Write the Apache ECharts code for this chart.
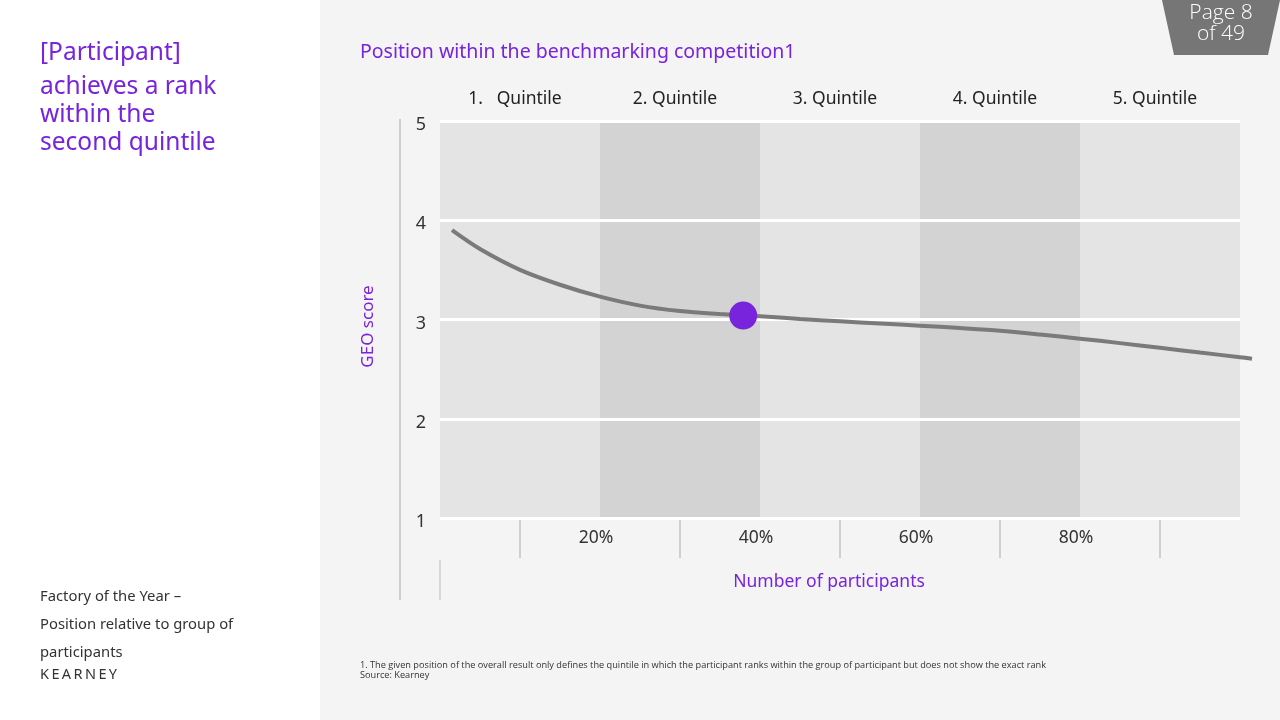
<!DOCTYPE html>
<html><head><meta charset="utf-8">
<script src="https://cdn.jsdelivr.net/npm/echarts@6/dist/echarts.min.js"></script>
<style>html,body{margin:0;padding:0;background:#f4f4f4}#c{width:1280px;height:720px}</style>
</head><body><div id="c"></div>
<script>
const curveX = [1.5, 5, 10, 15, 20, 25, 30, 35, 40, 45, 50, 55, 60, 65, 70, 75, 80, 85, 90, 95, 100, 101.5];
const curveY = [3.90, 3.71, 3.50, 3.35, 3.23, 3.14, 3.085, 3.055, 3.033, 3.005, 2.982, 2.96, 2.938, 2.914, 2.887, 2.849, 2.807, 2.762, 2.715, 2.667, 2.62, 2.605];
const participant = [37.9, 3.04];
const bandStarts = [0, 20, 40, 60, 80];
const bandEnds = [20, 40, 60, 80, 100];
const bandLabels = ['1.   Quintile', '2. Quintile', '3. Quintile', '4. Quintile', '5. Quintile'];
const yTicks = [1, 2, 3, 4, 5];
const xLabelValues = [20, 40, 60, 80];
const xTickValues = [10, 30, 50, 70, 90];

const PURPLE = '#7823dc';
const FONT = '"Noto Sans", sans-serif';

const chart = echarts.init(document.getElementById('c'));
chart.setOption({
  backgroundColor: '#f4f4f4',
  animation: false,
  textStyle: { fontFamily: FONT },
  title: {
    text: 'Position within the benchmarking competition1',
    left: 355, top: 37,
    textStyle: { color: PURPLE, fontSize: 19.5, fontWeight: 'normal', fontFamily: FONT }
  },
  grid: { left: 440, right: 28, top: 121, bottom: 202 },
  xAxis: {
    type: 'value', min: 0, max: 101.5,
    axisLine: { show: false },
    splitLine: { show: false },
    axisTick: { show: true, customValues: xTickValues, length: 40, lineStyle: { color: '#c4c4c4', width: 1.5 } },
    axisLabel: { customValues: xLabelValues, formatter: v => v + '%', color: '#333', fontSize: 17.5, margin: 11, padding: [0, 8, 0, 0], fontFamily: FONT },
    name: 'Number of participants', nameLocation: 'middle', nameGap: 55,
    nameTextStyle: { color: PURPLE, fontSize: 17.5, fontFamily: FONT, padding: [0, 34, 0, 0] }
  },
  yAxis: {
    type: 'value', min: 1, max: 5, interval: 1,
    axisLine: { show: false }, axisTick: { show: false }, splitLine: { show: false },
    axisLabel: {
      margin: 14,
      formatter: v => '{a|' + v + '}',
      rich: { a: { color: '#333', fontSize: 18, fontFamily: FONT, padding: [8, 0, 0, 0] } }
    },
    name: 'GEO score', nameLocation: 'middle', nameGap: 63, nameRotate: 90,
    nameTextStyle: { color: PURPLE, fontSize: 17, fontFamily: FONT, padding: [0, 14, 0, 0] }
  },
  series: [
    {
      type: 'line', data: [], z: 1,
      markArea: {
        silent: true,
        data: bandStarts.map((s, i) => [
          { xAxis: s, yAxis: 1, itemStyle: { color: i % 2 ? '#d3d3d3' : '#e4e4e4' },
            label: { show: true, position: 'top', distance: 13, formatter: bandLabels[i], color: '#222', fontSize: 17.5, fontFamily: FONT, padding: [0, 10, 0, 0] } },
          { xAxis: bandEnds[i], yAxis: 5 }
        ])
      },
      markLine: {
        silent: true, symbol: 'none', label: { show: false },
        lineStyle: { color: '#ffffff', width: 3, type: 'solid' },
        data: yTicks.map(v => [{ xAxis: bandStarts[0], yAxis: v }, { xAxis: bandEnds[bandEnds.length - 1], yAxis: v }])
      }
    },
    {
      type: 'line', z: 10, smooth: 0.3, showSymbol: false, clip: false,
      lineStyle: { color: '#7a7a7a', width: 4 },
      data: curveX.map((x, i) => [x, curveY[i]])
    },
    {
      type: 'scatter', z: 12, symbolSize: 28,
      itemStyle: { color: PURPLE, opacity: 1 },
      data: [participant]
    }
  ],
  graphic: [
    { type: 'rect', shape: { x: 0, y: 0, width: 320, height: 720 }, style: { fill: '#ffffff' }, z: -10 },
    { type: 'line', shape: { x1: 400, y1: 119, x2: 400, y2: 600 }, style: { stroke: '#b4b4b4', lineWidth: 1.2 } },
    { type: 'line', shape: { x1: 440, y1: 560, x2: 440, y2: 600 }, style: { stroke: '#c4c4c4', lineWidth: 1.2 } },
    { type: 'polygon', shape: { points: [[1162, 0], [1280, 0], [1268, 55], [1174, 55]] }, style: { fill: '#767676' } },
    { type: 'text', x: 1221, y: 3, style: { text: 'Page 8\nof 49', fill: '#ffffff', font: '300 21px "Open Sans", sans-serif', align: 'center', lineHeight: 21 } },
    { type: 'text', x: 40, y: 41, style: { text: '[Participant]', fill: PURPLE, font: '24.5px "Noto Sans", sans-serif' } },
    { type: 'text', x: 40, y: 73, style: { text: 'achieves a rank\nwithin the\nsecond quintile', fill: PURPLE, font: '24.5px "Noto Sans", sans-serif', lineHeight: 28 } },
    { type: 'text', x: 40, y: 583, style: { text: 'Factory of the Year –\nPosition relative to group of\nparticipants', fill: '#333', font: '14.8px "Noto Sans", sans-serif', lineHeight: 28 } },
    { type: 'text', x: 40, y: 667, style: { text: 'K\u2009E\u2009A\u2009R\u2009N\u2009E\u2009Y', fill: '#333', font: '14.5px "Noto Sans", sans-serif' } },
    { type: 'text', x: 360, y: 660, style: { text: '1. The given position of the overall result only defines the quintile in which the participant ranks within the group of participant but does not show the exact rank\nSource: Kearney', fill: '#333', font: '9.2px "Open Sans", sans-serif', lineHeight: 10 } }
  ]
});
</script></body></html>
